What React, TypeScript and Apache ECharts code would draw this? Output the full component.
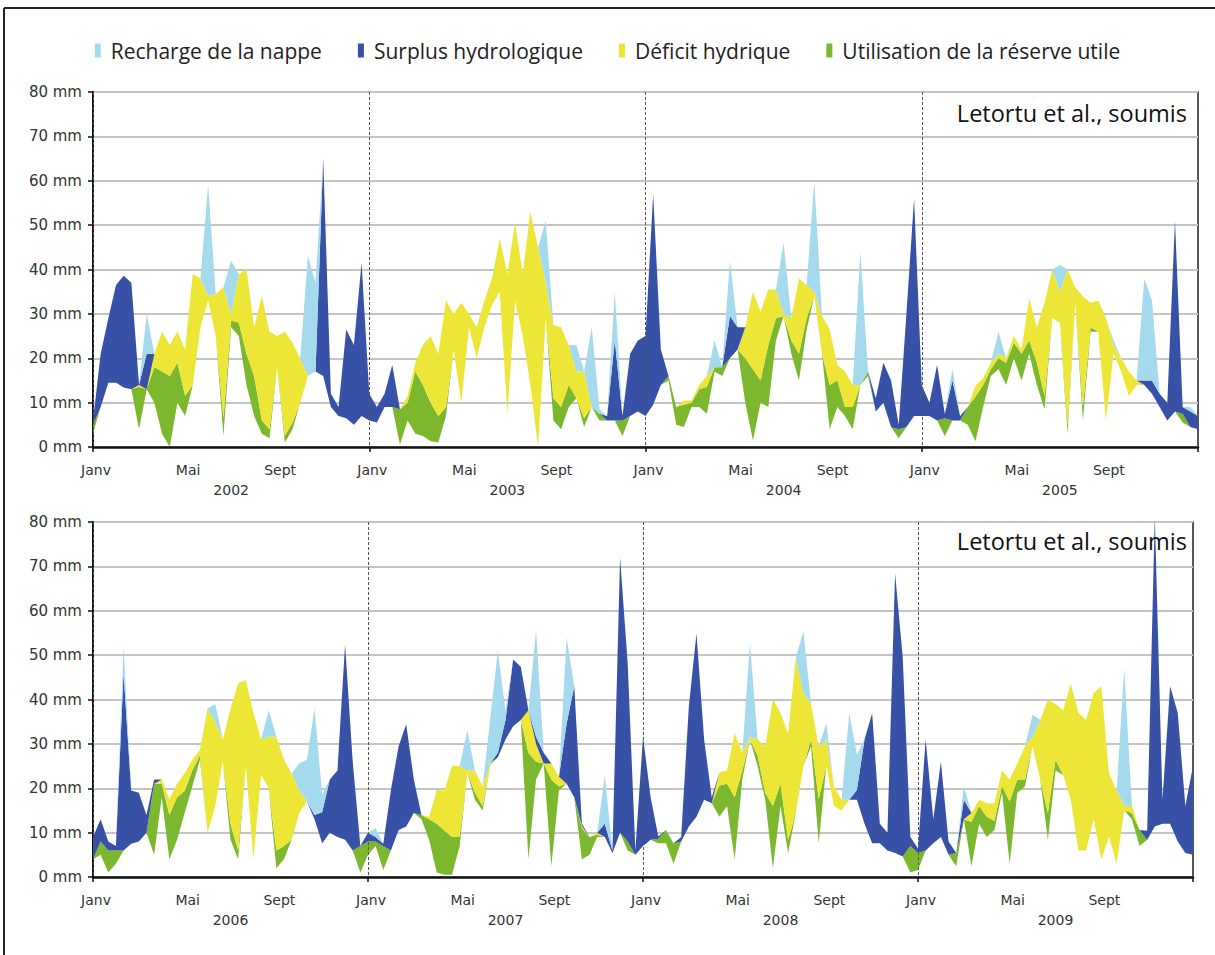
import React, { useEffect, useRef } from 'react';
import * as echarts from 'echarts';

// Colours
const C_LIGHT = '#a5daee';
const C_BLUE = '#3651a5';
const C_YELLOW = '#ede637';
const C_GREEN = '#7bb82e';

const LEGEND_NAMES = ['Recharge de la nappe', 'Surplus hydrologique', 'Déficit hydrique', 'Utilisation de la réserve utile'];
const MONTH_LABELS = ['Janv', 'Mai', 'Sept'];
const YEARS_TOP = ['2002', '2003', '2004', '2005'];
const YEARS_BOTTOM = ['2006', '2007', '2008', '2009'];
const SOURCE = 'Letortu et al., soumis';

// One row per 10-day period: [base, utilisation RU, déficit, surplus, recharge] (mm)
const d2002 = [
  [3, 2, 0, 1, 0], [9, 0, 0, 12, 0], [14.5, 0, 0, 14.5, 0], [14.5, 0, 0, 22, 0], [13.4, 0, 0, 25.2, 0], [13, 0, 0, 24, 0],
  [4, 9.5, 0.5, 0, 0], [13, 0, 0, 8, 9], [10, 8, 3, 0, 0], [3, 14, 9, 0, 0], [0, 16, 7, 0, 0], [10, 9, 7, 0, 0],
  [7, 4.5, 10.5, 0, 0], [14, 0, 25, 0, 0], [27, 0, 11, 0, 0], [33, 0, 1, 0, 25], [25, 0, 9.5, 0, 0], [2.5, 4, 29.5, 0, 0],
  [27, 1.5, 1.5, 0, 12], [25, 3, 11, 0, 0], [14, 7, 19, 0, 0], [7, 9, 11, 0, 0], [3, 3, 28, 0, 0], [2, 2, 22, 0, 0],
  [18, 0, 7, 0, 0], [1, 1.5, 23.5, 0, 0], [4, 1.5, 18, 0, 0], [10, 0, 10, 0, 0], [16, 0, 0, 0, 27], [17, 0, 0, 0, 20],
  [16, 0, 0, 49, 0], [9, 0, 0, 3, 0], [7, 0, 0, 2, 0], [6.5, 0, 0, 20, 0], [5, 0, 0, 18, 0], [7, 0, 0, 34.5, 0],
];
const d2003 = [
  [6, 0, 0, 6, 0], [5.5, 0, 0, 3.5, 0], [9, 0, 0, 3, 0], [9, 0, 0, 9.5, 0], [0.5, 8, 0, 0, 0], [6, 4, 1.5, 0, 0],
  [3, 14, 2, 0, 0], [2.5, 11.5, 9, 0, 0], [1.3, 8.7, 15, 0, 0], [1, 6, 14, 0, 0], [7, 2, 24, 0, 0], [22, 0, 8, 0, 0],
  [10, 0, 22.5, 0, 0], [27, 0, 3, 0, 0], [20, 0, 7, 0, 0], [27, 0, 6, 0, 0], [32, 0, 6, 0, 0], [35, 0, 12, 0, 0],
  [7.5, 0, 31.5, 0, 0], [33, 0, 17.5, 0, 0], [25, 0, 14, 0, 0], [14, 0, 39, 0, 0], [0, 0, 45, 0, 0], [29, 0, 8, 0, 14],
  [6, 5, 16.5, 0, 0], [4, 5, 18, 0, 0], [9, 5, 9, 0, 0], [11, 0, 6, 0, 6], [4.5, 2, 10.5, 0, 0], [9, 0, 0, 0, 18],
  [6, 1.5, 0, 0, 1], [6, 0, 0, 1, 0], [6, 0, 0, 18, 11], [2.5, 3.5, 0, 1, 0], [7, 0, 0, 14, 0], [8, 0, 0, 16, 0],
];
const d2004 = [
  [7, 0, 0, 18, 0], [9.5, 0, 0, 47.5, 0], [14, 0, 0, 8, 0], [15, 1, 0, 0, 0], [5, 4, 0, 0, 0], [4.5, 5, 1, 0, 0],
  [9, 1, 0.5, 0, 0], [9, 4, 1, 0, 0], [7.5, 6, 2.5, 0, 0], [17, 1, 0, 0, 6], [16, 2, 0, 0, 0], [20, 0, 0, 9.5, 12.5],
  [22, 0, 0, 5, 0], [10, 10, 7, 0, 0], [1.5, 16, 17.5, 0, 0], [10, 5, 15.5, 0, 0], [9, 14, 12.5, 0, 0], [24, 5, 6.5, 0, 0],
  [29.5, 0, 0.5, 0, 16], [21, 3, 5, 0, 0], [15, 6, 17, 0, 0], [26.5, 2.5, 7.5, 0, 0], [34, 0, 1, 0, 25], [21, 0, 8.5, 0, 0],
  [4, 10, 12.5, 0, 0], [9, 6, 3.5, 0, 0], [7, 2, 8, 0, 0], [4, 5, 5, 0, 0], [14, 0, 0, 0, 30], [16, 1, 0, 0, 0],
  [8, 0, 0, 3, 0], [10, 0, 0, 9, 0], [4.5, 0, 0, 10.5, 0], [2, 2, 0, 1, 0], [4.5, 0, 0, 25.5, 0], [7, 0, 0, 49, 0],
];
const d2005 = [
  [7, 0, 0, 7, 0], [7, 0, 0, 3, 0], [6, 0, 0, 12.5, 0], [2.5, 4, 0, 1, 0], [6, 0, 0, 9, 2.5], [6, 0, 0, 1, 0],
  [5, 4, 0, 0, 0], [1.3, 10, 2.5, 0, 0], [9, 5, 1.5, 0, 0], [16, 1.5, 1.5, 0, 0], [17.5, 2.5, 1, 0, 5], [14, 5, 1, 0, 0],
  [20, 3.5, 1.5, 0, 0], [15, 6, 1, 0, 0], [21, 3, 9.5, 0, 0], [14, 5, 8, 0, 0], [8.5, 3, 21, 0, 0], [29, 0, 11, 0, 0],
  [28, 0, 7, 0, 6], [3, 2, 35, 0, 0], [32.5, 0, 3.5, 0, 0], [6, 3, 25, 0, 0], [26, 1, 5.5, 0, 0], [26, 0, 7, 0, 0],
  [6, 0, 23, 0, 0], [21, 0, 2, 0, 1], [17, 0, 3, 0, 0], [11.5, 0, 5.5, 0, 0], [14, 0, 1, 0, 0], [14, 0, 0, 1, 23],
  [12, 0, 0, 3, 18], [9, 0, 0, 3, 0], [6, 0, 0, 4, 0], [8, 0, 0, 43, 0], [5.5, 2, 0, 1.5, 0], [4.5, 0, 0, 3.5, 1],
];
const endTop = [4, 0, 0, 3, 0];

const d2006 = [
  [4, 0, 0, 5, 0], [5, 3, 0, 5, 0], [1, 5, 0, 2, 0], [3, 3, 0, 1, 0], [6, 0, 0, 40, 6], [7.5, 0, 0, 12, 0],
  [8, 0, 0, 11, 0], [10, 0, 0, 4, 0], [5, 16, 0, 1, 0], [18, 3, 1, 0, 0], [4, 10, 3.5, 0, 0], [8.4, 9.6, 3, 0, 0],
  [14.4, 5, 4, 0, 0], [20.4, 3.6, 2.4, 0, 0], [26.4, 1, 1.2, 0, 0], [10, 0, 28, 0, 0], [16, 0, 19, 0, 4], [26, 0, 5, 0, 0],
  [8.4, 3.6, 26, 0, 0], [4, 2, 37.6, 0, 0], [25, 0, 19.4, 0, 0], [4, 0, 33, 0, 0], [23, 0, 8, 0, 0], [20, 0, 11.6, 0, 6],
  [2, 4, 25.6, 0, 0], [4, 3, 19.4, 0, 0], [8.4, 0, 15, 0, 0], [14.4, 0, 5.2, 0, 6], [17, 0, 0, 0, 9.4], [13, 0, 0, 1, 24],
  [7.6, 0, 0, 7, 4], [10, 0, 0, 12, 0], [9, 0, 0, 15, 0], [8.4, 0, 0, 44, 0], [6, 0, 0, 20, 0], [1, 6, 0, 0, 0],
];
const d2007 = [
  [5, 3, 0, 2, 0], [7, 1, 0, 1, 2], [1.6, 5.4, 0, 0.5, 0], [6, 0, 0, 13.6, 0], [10.6, 0, 0, 18.8, 0], [11.4, 0, 0, 23, 0],
  [14.4, 0, 0, 7.6, 0], [13, 1, 0, 0, 0], [8.4, 4.6, 0.6, 0, 0], [1, 11, 7.6, 0, 0], [0.5, 10, 9, 0, 0], [0.5, 8.5, 16, 0, 0],
  [7, 2, 16, 0, 0], [23.5, 0, 0.5, 0, 9], [17.4, 1.6, 5, 0, 0], [15, 1, 4.4, 0, 0], [25, 0, 0.6, 0, 10], [27, 0, 0, 1, 23],
  [31, 0, 0, 4.4, 2], [34, 0, 0, 15, 0], [35.4, 0, 0, 12, 0], [4, 24, 9.6, 0, 0], [22, 4, 4, 1.6, 24], [25.6, 0, 0, 2.4, 0],
  [2.4, 19.6, 3.6, 0, 0], [19.6, 0.8, 2.2, 0, 0], [21, 0, 0, 13.6, 19.4], [18, 0, 0, 25, 0], [4, 7, 0.5, 0.5, 0], [5, 4, 0, 0, 0],
  [9, 0.5, 0.5, 0, 0], [9, 0, 0, 3, 11], [5.4, 0, 0, 0.6, 0], [10, 0, 0, 62, 0], [6, 2, 0, 40, 0], [5, 0, 0, 1, 0],
];
const d2008 = [
  [7, 0, 0, 24.6, 0], [8.4, 0, 0, 9.6, 0], [7.6, 1, 0, 0.5, 0], [7.6, 3, 0, 0, 0], [3, 4.6, 0, 0, 0], [8, 0, 0, 1, 0],
  [11.4, 0, 0, 27, 0], [13.6, 0, 0, 41.3, 0], [17.4, 0, 0, 13.6, 0], [16.6, 0, 0, 1.4, 0], [13.6, 7, 3, 0, 0], [16, 5, 3, 0, 0],
  [4, 14, 14.4, 0, 0], [22, 2, 4, 0, 0], [31, 0, 0.6, 0, 21], [25, 2.4, 3.6, 0, 0], [17.4, 1.6, 10.4, 0, 0], [2, 14, 24, 0, 0],
  [16, 5, 16, 0, 0], [5.4, 3, 24, 0, 0], [14.4, 0, 35, 0, 0], [25, 0, 16.4, 0, 14], [29.4, 1.6, 8, 0, 0], [7.6, 10, 11.8, 0, 0],
  [25, 0, 6, 0, 3.6], [16, 0, 4.4, 0, 0], [15, 0, 2.4, 0, 0], [17.4, 0, 0, 0, 19.5], [17.4, 0, 0, 2.2, 8], [12, 0, 0, 19, 0],
  [7.6, 0, 0, 29.3, 0], [7.6, 0, 0, 4.4, 0], [6, 0, 0, 4, 0], [5.4, 0, 0, 63, 0], [4.6, 0, 0, 45, 0], [1, 6, 0, 2, 0],
];
const d2009 = [
  [1.6, 3.8, 0, 1, 0], [6, 0, 0, 25, 0], [7.6, 0, 0, 5.4, 0], [9, 0, 0, 17, 0], [5, 0, 0, 3, 0], [2.4, 3, 0, 0, 0],
  [13, 0, 0, 4.4, 3], [2.4, 10, 2, 0, 0], [12, 4, 1.4, 0, 0], [9, 4.6, 3, 0, 0], [10.6, 2, 4, 0, 0], [19, 1.5, 3.5, 0, 0],
  [3, 14, 5, 0, 0], [19, 3, 3.6, 0, 0], [20.4, 1.6, 7.4, 0, 0], [29.4, 0, 2.2, 0, 5], [22, 0, 13.4, 0, 0], [8.4, 6, 25.6, 0, 0],
  [24, 2.4, 12.6, 0, 0], [23, 0, 14.6, 0, 0], [17.4, 0, 26.2, 0, 0], [6, 0, 31, 0, 0], [6, 0, 29.4, 0, 0], [13, 0, 28.4, 0, 0],
  [4, 0, 39, 0, 0], [9, 0, 14.4, 0, 0], [3, 0, 16.6, 0, 0], [15, 0, 1, 0, 31], [13, 1.4, 1.6, 0, 0], [7, 3.6, 0, 0, 0],
  [8.4, 0, 0, 2, 0], [11.4, 0, 0, 70, 0], [12, 0, 0, 5.4, 0], [12, 0, 0, 31, 0], [8, 0, 0, 29, 0], [5.4, 0, 0, 10.6, 0],
];
const endBottom = [5, 0, 0, 20, 0];

const TOP_ROWS = [...d2002, ...d2003, ...d2004, ...d2005, endTop];
const BOTTOM_ROWS = [...d2006, ...d2007, ...d2008, ...d2009, endBottom];

const LAYERS = [
  { name: '', color: 'rgba(0,0,0,0)' },
  { name: 'Utilisation de la réserve utile', color: C_GREEN },
  { name: 'Déficit hydrique', color: C_YELLOW },
  { name: 'Surplus hydrologique', color: C_BLUE },
  { name: 'Recharge de la nappe', color: C_LIGHT },
];

const AXIS_FONT = 'DejaVu Sans';

function panelSeries(rows: number[][], gi: number) {
  return LAYERS.map((layer, k) => ({
    type: 'line',
    name: k === 0 ? `base${gi}` : layer.name,
    xAxisIndex: gi * 2,
    yAxisIndex: gi,
    stack: 'panel' + gi,
    data: rows.map((r) => r[k]),
    symbol: 'none',
    silent: true,
    lineStyle: { width: 0, opacity: 0 },
    areaStyle: k === 0 ? { opacity: 0 } : { color: layer.color, opacity: 1 },
    itemStyle: { color: layer.color },
  }));
}

function monthAxis(gi: number, n: number) {
  return {
    type: 'category',
    gridIndex: gi,
    boundaryGap: false,
    data: Array.from({ length: n }, (_, i) => String(i)),
    axisLine: { show: false },
    axisTick: { show: false },
    splitLine: { show: false },
    axisLabel: {
      interval: (idx: number) => idx % 12 === 0 && idx < n - 1,
      formatter: (_v: string, idx: number) => MONTH_LABELS[(idx % 36) / 12] ?? '',
      margin: 16,
      padding: [0, 0, 0, 6],
      fontFamily: AXIS_FONT,
      fontSize: 14,
      color: '#333',
    },
  };
}

function yearAxis(gi: number, years: string[]) {
  return {
    type: 'category',
    gridIndex: gi,
    position: 'bottom',
    boundaryGap: true,
    data: years,
    z: 5,
    axisLine: { show: true, lineStyle: { color: '#111', width: 2.5 } },
    axisTick: { show: true, length: 5, lineStyle: { color: '#111', width: 1.5 } },
    splitLine: { show: true, lineStyle: { color: '#555', width: 1, type: [3, 2] } },
    axisLabel: { margin: 36, fontFamily: AXIS_FONT, fontSize: 14, color: '#333' },
  };
}

function valueAxis(gi: number) {
  return {
    type: 'value',
    gridIndex: gi,
    min: 0,
    max: 80,
    interval: 10,
    axisLine: { show: true, lineStyle: { color: '#111', width: 2 } },
    axisTick: { show: true, length: 5, lineStyle: { color: '#111', width: 1.5 } },
    splitLine: { show: true, lineStyle: { color: '#c4c4c4', width: 2 } },
    axisLabel: { formatter: '{value} mm', margin: 11, fontFamily: AXIS_FONT, fontSize: 15, color: '#333' },
  };
}

export default function App() {
  const ref = useRef<HTMLDivElement>(null);
  useEffect(() => {
    if (!ref.current) return;
    const chart = echarts.init(ref.current, undefined, { renderer: 'svg' });
    const n = TOP_ROWS.length;
    chart.setOption({
      animation: false,
      backgroundColor: '#fff',
      legend: {
        data: LEGEND_NAMES,
        top: 35,
        left: 'center',
        icon: 'rect',
        itemWidth: 6,
        itemHeight: 14,
        itemGap: 36,
        textStyle: { fontFamily: 'Open Sans', fontSize: 21, color: '#222', padding: [0, 0, 0, 5] },
        selectedMode: false,
      },
      grid: [
        { left: 93, top: 92, width: 1105, height: 355, show: true, borderColor: '#222', borderWidth: 1.5 },
        { left: 93, top: 522, width: 1100, height: 355, show: true, borderColor: '#222', borderWidth: 1.5 },
      ],
      xAxis: [monthAxis(0, n), yearAxis(0, YEARS_TOP), monthAxis(1, BOTTOM_ROWS.length), yearAxis(1, YEARS_BOTTOM)],
      yAxis: [valueAxis(0), valueAxis(1)],
      series: [...panelSeries(TOP_ROWS, 0), ...panelSeries(BOTTOM_ROWS, 1)],
      graphic: [
        { type: 'line', shape: { x1: 4, y1: 8, x2: 1215, y2: 8 }, style: { stroke: '#222', lineWidth: 2 } },
        { type: 'line', shape: { x1: 4, y1: 8, x2: 4, y2: 955 }, style: { stroke: '#222', lineWidth: 2 } },
        {
          type: 'text', x: 1187, y: 113, z: 10,
          style: { text: SOURCE, font: '23.5px "Open Sans"', fill: '#111', align: 'right', verticalAlign: 'middle' },
        },
        {
          type: 'text', x: 1187, y: 541, z: 10,
          style: { text: SOURCE, font: '23.5px "Open Sans"', fill: '#111', align: 'right', verticalAlign: 'middle' },
        },
      ],
    });
    return () => chart.dispose();
  }, []);
  return <div ref={ref} style={{ position: 'absolute', left: 0, top: 0, width: 1215, height: 955 }} />;
}
